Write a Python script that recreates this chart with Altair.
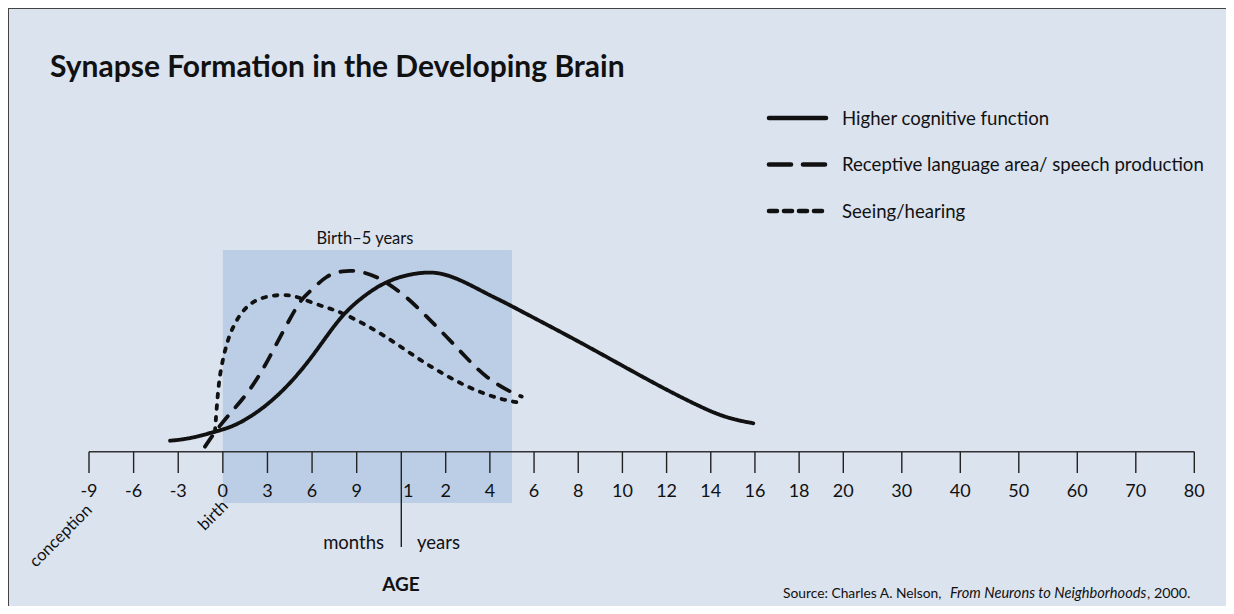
import altair as alt
import pandas as pd

# ---------------- data ----------------
series_names = [
    "Higher cognitive function",
    "Receptive language area/ speech production",
    "Seeing/hearing",
]

# age in months (negative = before birth), relative synapse formation (0-100)
cog_months = [-3.55, -2.21, -0.53, 0.70, 2.28, 4.07, 5.64, 6.75, 8.10, 9.56, 10.79,
              12.54, 18.87, 23.35, 33.56, 48.07, 53.50, 64.37, 89.74, 107.83, 125.92,
              144.07, 162.16, 176.67, 191.1]
cog_values = [6.1, 7.2, 11.1, 13.9, 21.3, 33.7, 48.7, 61.5, 76.9, 87.1, 93.7,
              97.9, 100.0, 99.0, 94.8, 86.8, 84.3, 78.4, 64.8, 54.7, 44.4,
              34.3, 25.0, 18.6, 15.8]

lang_months = [-1.20, -0.53, 0.48, 1.49, 2.50, 3.51, 4.52, 5.30, 5.86, 6.98, 8.10,
               8.95, 9.89, 10.79, 13.46, 18.87, 24.54, 35.41, 46.28, 58.93, 65.29]
lang_values = [2.8, 11.1, 21.3, 30.6, 42.6, 58.3, 74.1, 85.2, 88.9, 98.2, 100.6,
               100.6, 98.7, 95.4, 86.1, 75.0, 63.9, 51.9, 40.8, 33.3, 30.6]

see_months = [-0.53, -0.41, -0.31, -0.19, 0.14, 0.48, 1.04, 1.60, 2.28, 3.39, 4.52,
              5.30, 6.31, 7.20, 8.10, 9.44, 10.79, 12.54, 17.95, 23.35, 33.56,
              44.43, 55.29, 66.16]
see_values = [11.1, 25.0, 34.3, 43.6, 56.5, 65.8, 75.0, 80.6, 84.7, 87.1, 87.1,
              85.2, 81.8, 79.6, 76.8, 71.3, 64.8, 57.4, 49.8, 43.2, 37.1,
              32.4, 28.7, 26.9]

tick_months = [-9, -6, -3, 0, 3, 6, 9, 12, 24, 48, 72, 96, 120, 144, 168, 192, 216,
               240, 360, 480, 600, 720, 840, 960]
tick_labels = ["-9", "-6", "-3", "0", "3", "6", "9", "1", "2", "4", "6", "8", "10",
               "12", "14", "16", "18", "20", "30", "40", "50", "60", "70", "80"]

band_start, band_end = 0, 60   # birth to 5 years, in months
divider_month = 12

# ---------------- styles / layout ----------------
W, H = 1218, 598
BG = "#dbe3ef"
BAND = "#bccee5"
INK = "#111111"
FONT = "Lato"

xscale = alt.Scale(domain=[-9, 12, 24, 240, 960],
                   range=[81, 393.3, 437.7, 835.3, 1186.3],
                   nice=False, zero=False)
yscale = alt.Scale(domain=[0, 100], range=[443.7, 263.7], nice=False, zero=False)

rows = []
for name, ms, vs in [(series_names[0], cog_months, cog_values),
                     (series_names[1], lang_months, lang_values),
                     (series_names[2], see_months, see_values)]:
    for m, v in zip(ms, vs):
        rows.append({"series": name, "month": m, "value": v})
curves = pd.DataFrame(rows)

ticks = pd.DataFrame({"month": tick_months, "label": tick_labels})
band = pd.DataFrame({"start": [band_start], "end": [band_end]})

band_layer = alt.Chart(band).mark_rect(color=BAND).encode(
    x=alt.X("start:Q", scale=xscale, axis=None),
    x2="end:Q",
    y=alt.value(242), y2=alt.value(495),
)

axis_line = alt.Chart(pd.DataFrame({"a": [tick_months[0]], "b": [tick_months[-1]], "z": [0]})).mark_rule(
    color="#333333", strokeWidth=1.6).encode(
    x=alt.X("a:Q", scale=xscale, axis=None), x2="b:Q",
    y=alt.Y("z:Q", scale=yscale, axis=None),
)

tick_layer = alt.Chart(ticks).transform_filter(
    alt.datum.month != divider_month).mark_rule(color="#222222", strokeWidth=1.4).encode(
    x=alt.X("month:Q", scale=xscale, axis=None),
    y=alt.value(443.7), y2=alt.value(465),
)

divider_layer = alt.Chart(pd.DataFrame({"month": [divider_month]})).mark_rule(
    color="#222222", strokeWidth=1.4).encode(
    x=alt.X("month:Q", scale=xscale, axis=None),
    y=alt.value(443.7), y2=alt.value(539),
)

tick_text = alt.Chart(ticks).transform_filter(
    alt.datum.month != divider_month).mark_text(
    font=FONT, fontSize=18, color=INK, baseline="alphabetic", align="center").encode(
    x=alt.X("month:Q", scale=xscale, axis=None),
    y=alt.value(489),
    text="label:N",
)
tick_text_div = alt.Chart(ticks).transform_filter(
    alt.datum.month == divider_month).mark_text(
    font=FONT, fontSize=18, color=INK, baseline="alphabetic", align="center", dx=7).encode(
    x=alt.X("month:Q", scale=xscale, axis=None),
    y=alt.value(489),
    text="label:N",
)

dash_range = [[1, 0], [13, 12], [3.5, 8]]
curve_layer = alt.Chart(curves).mark_line(
    interpolate="basis", color=INK, strokeWidth=3.8, strokeCap="round").encode(
    x=alt.X("month:Q", scale=xscale, axis=None),
    y=alt.Y("value:Q", scale=yscale, axis=None),
    detail="series:N",
    strokeDash=alt.StrokeDash("series:N", scale=alt.Scale(domain=series_names, range=dash_range),
                              legend=None),
)


def label(text, x, y, size=16, align="left", weight="normal", style="normal", angle=0):
    kw = dict(font=FONT, fontSize=size, color=INK, align=align, baseline="alphabetic",
              fontWeight=weight, fontStyle=style)
    if angle:
        kw["angle"] = angle
    return alt.Chart(pd.DataFrame({"t": [text]})).mark_text(**kw).encode(
        x=alt.value(x), y=alt.value(y), text="t:N")


texts = [
    label("Synapse Formation in the Developing Brain", 42, 69, size=30, weight="bold"),
    label("Birth\u20135 years", 357, 236, size=16.5, align="center"),
    label("months", 376, 541, size=18.5, align="right"),
    label("years", 409, 541, size=18.5),
    label("AGE", 393, 583, size=19, align="center", weight="bold"),
    label("conception", 85, 503, size=16.5, align="right", angle=315),
    label("birth", 221, 499, size=16.5, align="right", angle=315),
    label("Source: Charles A. Nelson,", 775, 590, size=13.8),
    label("From Neurons to Neighborhoods", 942, 590, size=14.6, style="italic"),
    label(", 2000.", 1139, 590, size=14.3),
]

legend_dash = [[1, 0], [22, 12], [8, 7]]
legend_layers = []
for i, name in enumerate(series_names):
    yy = 110 + i * 46.5
    legend_layers.append(
        alt.Chart(pd.DataFrame({"s": [name]})).mark_rule(
            color=INK, strokeWidth=4.6, strokeCap="round", strokeDash=legend_dash[i]).encode(
            x=alt.value(761), x2=alt.value(818), y=alt.value(yy))
    )
    legend_layers.append(label(name, 834, yy + 6.5, size=18.6))

border = [
    alt.Chart(pd.DataFrame({"s": [0]})).mark_rule(color="#444444", strokeWidth=2).encode(
        x=alt.value(0), x2=alt.value(W), y=alt.value(0)),
    alt.Chart(pd.DataFrame({"s": [0]})).mark_rule(color="#444444", strokeWidth=2).encode(
        x=alt.value(0), y=alt.value(0), y2=alt.value(H)),
]

chart = alt.layer(
    band_layer, axis_line, tick_layer, divider_layer, tick_text, tick_text_div, curve_layer,
    *texts, *legend_layers, *border
).properties(
    width=W, height=H, background=BG, padding=0,
    autosize=alt.AutoSizeParams(type="none"),
).configure_view(stroke=None)

chart.save("out.html", embed_options={"renderer": "svg", "actions": False})
